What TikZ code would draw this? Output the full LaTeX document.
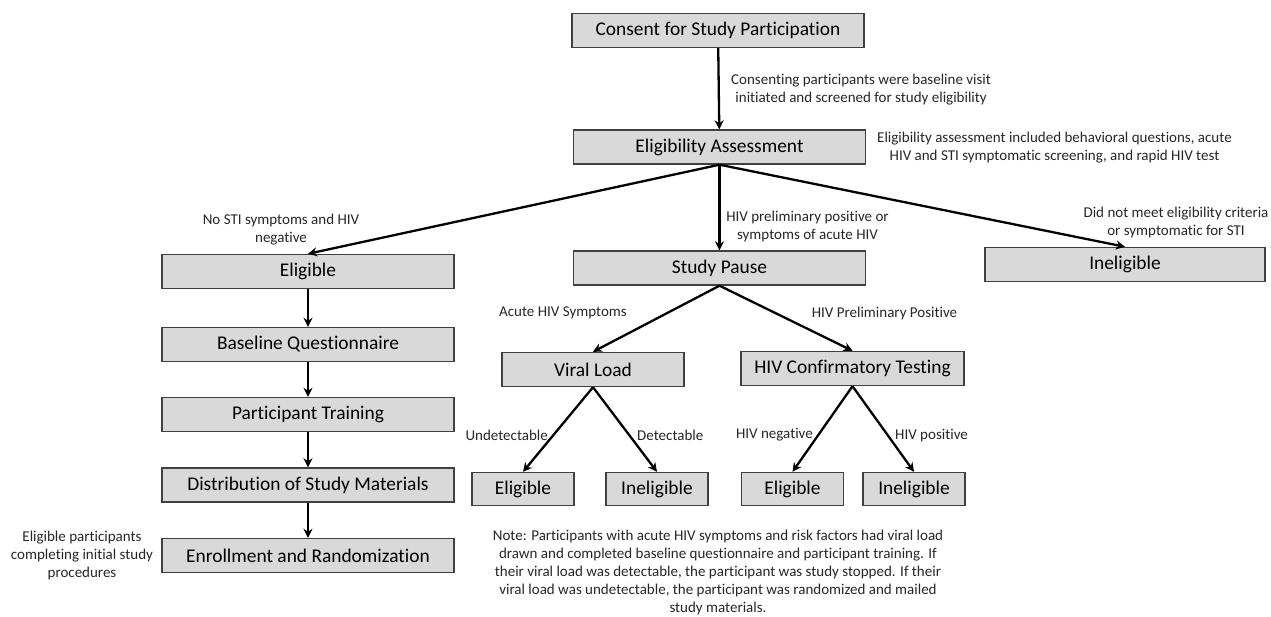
\documentclass[tikz,border=0pt]{standalone}
\usepackage{fontspec}
\setmainfont{Carlito}[Ligatures=NoCommon]
\usetikzlibrary{arrows.meta,positioning}

\begin{document}
\begin{tikzpicture}[x=1pt,y=-1pt,
    box/.style={draw=black!75,line width=1.4pt,fill=black!15,minimum width=292pt,minimum height=34pt,inner sep=0pt,font=\fontsize{19.4}{23}\selectfont},
    smallbox/.style={box,minimum width=102pt,minimum height=33pt},
    txt/.style={align=center,inner sep=0pt,text=black!85,font=\fontsize{15}{18}\selectfont},
    >={Stealth[length=9pt,width=9pt]}]
    \useasboundingbox (0,0) rectangle (1271,616);

    \node[box] (consent) at (718,30.5) {Consent for Study Participation};
    \node[box] (assess) at (719.5,147) {Eligibility Assessment};
    \node[box] (pause) at (719.5,268) {Study Pause};
    \node[box,minimum width=280pt] (inelig) at (1125,264.5) {Ineligible};

    \node[box] (elig) at (308,271.5) {Eligible};
    \node[box] (base) at (308,344.5) {Baseline Questionnaire};
    \node[box] (train) at (308,414.5) {Participant Training};
    \node[box] (distr) at (308,485) {Distribution of Study Materials};
    \node[box] (enroll) at (308,555.5) {Enrollment and Randomization};

    \node[box,minimum width=182pt] (viral) at (593,369.5) {Viral Load};
    \node[box,minimum width=223pt] (confirm) at (852.5,368.5) {HIV Confirmatory Testing};
    \node[smallbox] (vlelig) at (523,489) {Eligible};
    \node[smallbox] (vlinelig) at (657,489) {Ineligible};
    \node[smallbox] (cfelig) at (792.5,489) {Eligible};
    \node[smallbox] (cfinelig) at (914,489) {Ineligible};

    \draw[->,line width=2.3pt] (consent) -- (assess);
    \draw[->,line width=2.3pt] (assess.south) -- (elig.north);
    \draw[->,line width=2.3pt] (assess.south) -- (pause.north);
    \draw[->,line width=2.3pt] (assess.south) -- (inelig.north);
    \draw[->,line width=2.3pt] (elig) -- (base);
    \draw[->,line width=2.3pt] (base) -- (train);
    \draw[->,line width=2.3pt] (train) -- (distr);
    \draw[->,line width=2.3pt] (distr) -- (enroll);
    \draw[->,line width=2.3pt] (pause.south) -- (viral.north);
    \draw[->,line width=2.3pt] (pause.south) -- (confirm.north);
    \draw[->,line width=2.3pt] (viral.south) -- (vlelig.north);
    \draw[->,line width=2.3pt] (viral.south) -- (vlinelig.north);
    \draw[->,line width=2.3pt] (confirm.south) -- (cfelig.north);
    \draw[->,line width=2.3pt] (confirm.south) -- (cfinelig.north);

    \node[txt,anchor=west] (t1) at (731,89.5) {Consenting participants were baseline visit\\initiated and screened for study eligibility};
    \node[txt,anchor=west] (t2) at (877,147.5) {Eligibility assessment included behavioral questions, acute\\HIV and STI symptomatic screening, and rapid HIV test};
    \node[txt] (t3) at (281,229.5) {No STI symptoms and HIV\\negative};
    \node[txt] (t4) at (807.5,226) {HIV preliminary positive or\\symptoms of acute HIV};
    \node[txt] (t5) at (1176,222) {Did not meet eligibility criteria\\or symptomatic for STI};
    \node[txt] (t6) at (563,313) {Acute HIV Symptoms};
    \node[txt] (t7) at (884.5,313) {HIV Preliminary Positive};
    \node[txt,anchor=east] (t8) at (548,435) {Undetectable};
    \node[txt,anchor=west] (t9) at (637,435) {Detectable};
    \node[txt,anchor=east] (t10) at (813,435) {HIV negative};
    \node[txt,anchor=west] (t11) at (895,436) {HIV positive};
    \node[txt] (t12) at (82,555) {Eligible participants\\completing initial study\\procedures};
    \node[txt] (t13) at (718,572) {Note: Participants with acute HIV symptoms and risk factors had viral load\\drawn and completed baseline questionnaire and participant training. If\\their viral load was detectable, the participant was study stopped. If their\\viral load was undetectable, the participant was randomized and mailed\\study materials.};
\end{tikzpicture}
\end{document}
